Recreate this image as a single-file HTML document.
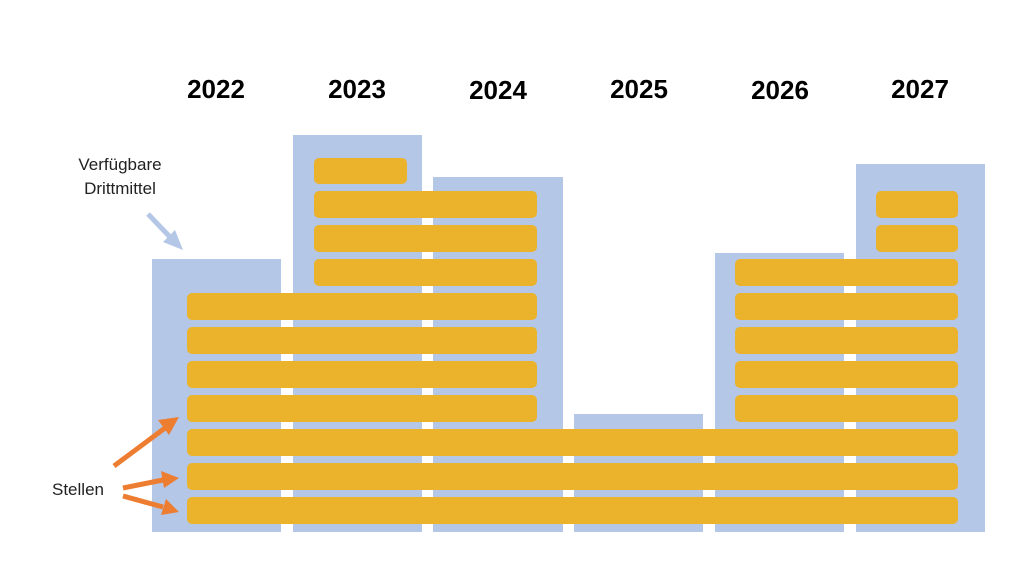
<!DOCTYPE html>
<html><head><style>body{margin:0;background:#fff}svg{display:block}</style></head><body>
<svg width="1024" height="576" xmlns="http://www.w3.org/2000/svg">
<g fill="#b4c7e7">
<rect x="152" y="259" width="129" height="273"/>
<rect x="293" y="135" width="129" height="397"/>
<rect x="433" y="177" width="130" height="355"/>
<rect x="574" y="414" width="129" height="118"/>
<rect x="715" y="253" width="129" height="279"/>
<rect x="856" y="164" width="129" height="368"/>
</g>
<g fill="#ebb22b">
<rect x="187" y="497" width="771" height="27" rx="5"/>
<rect x="187" y="463" width="771" height="27" rx="5"/>
<rect x="187" y="429" width="771" height="27" rx="5"/>
<rect x="187" y="395" width="350" height="27" rx="5"/>
<rect x="187" y="361" width="350" height="27" rx="5"/>
<rect x="187" y="327" width="350" height="27" rx="5"/>
<rect x="187" y="293" width="350" height="27" rx="5"/>
<rect x="314" y="259" width="223" height="27" rx="5"/>
<rect x="314" y="225" width="223" height="27" rx="5"/>
<rect x="314" y="191" width="223" height="27" rx="5"/>
<rect x="314" y="158" width="93" height="26" rx="5"/>
<rect x="735" y="395" width="223" height="27" rx="5"/>
<rect x="735" y="361" width="223" height="27" rx="5"/>
<rect x="735" y="327" width="223" height="27" rx="5"/>
<rect x="735" y="293" width="223" height="27" rx="5"/>
<rect x="735" y="259" width="223" height="27" rx="5"/>
<rect x="876" y="225" width="82" height="27" rx="5"/>
<rect x="876" y="191" width="82" height="27" rx="5"/>
</g>
<g font-family="Liberation Sans, sans-serif" font-weight="bold" font-size="26" text-anchor="middle" fill="#000">
<text x="216" y="98">2022</text><text x="357" y="98">2023</text><text x="498" y="99">2024</text>
<text x="639" y="98">2025</text><text x="780" y="99">2026</text><text x="920" y="98">2027</text>
</g>
<g font-family="Liberation Sans, sans-serif" font-size="17" fill="#222" text-anchor="middle">
<text x="120" y="170">Verfügbare</text><text x="120" y="194">Drittmittel</text>
<text x="78" y="495" text-anchor="middle">Stellen</text>
</g>
<g stroke="#b4c7e7" stroke-width="5"><line x1="148" y1="214" x2="170" y2="237"/></g>
<polygon points="183,250 163,242 175,230" fill="#b4c7e7"/>
<g stroke="#ed7d31" stroke-width="5">
<line x1="114" y1="466" x2="165" y2="428"/>
<line x1="123" y1="488" x2="163" y2="480"/>
<line x1="123" y1="496" x2="163" y2="507"/>
</g>
<g fill="#ed7d31">
<polygon points="179,417 158,420 169,435"/>
<polygon points="179,478 161,471 164,488"/>
<polygon points="179,512 166,499 161,515"/>
</g>
</svg>
</body></html>
